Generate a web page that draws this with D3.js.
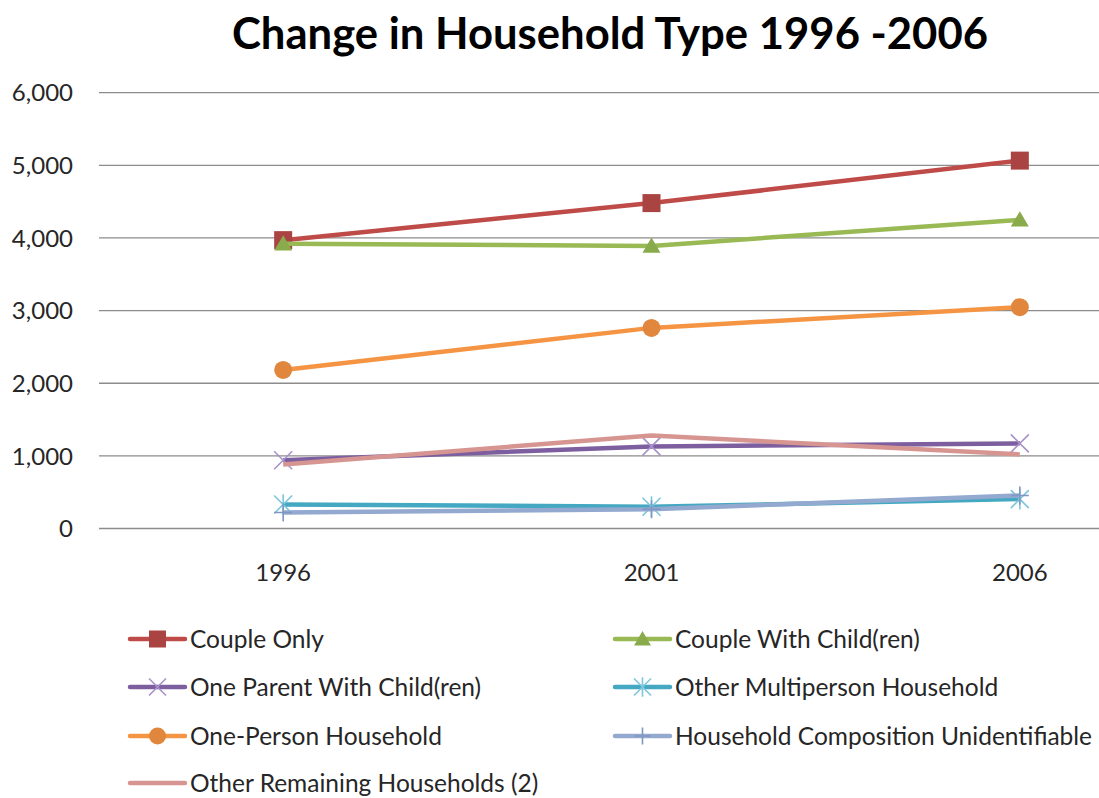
<!DOCTYPE html>
<html>
<head>
<meta charset="utf-8">
<script src="https://cdn.jsdelivr.net/npm/d3@7"></script>
<style>
  html, body { margin: 0; padding: 0; background: #ffffff; }
  svg { display: block; }
  text { font-family: Lato, "Open Sans", "DejaVu Sans", sans-serif; }
</style>
</head>
<body>
<svg id="chart" width="1099" height="798"></svg>
<script>
// Census years on the category axis
const years = ["1996", "2001", "2006"];

// Household counts per census year
const coupleOnly = [3970, 4480, 5065];
const coupleWithChildren = [3920, 3890, 4250];
const oneParent = [940, 1130, 1172];
const otherMultiperson = [330, 300, 405];
const onePerson = [2183, 2762, 3047];
const compositionUnidentifiable = [220, 265, 455];
const otherRemaining = [880, 1280, 1020];

// Value axis ticks
const yTicks = [0, 1000, 2000, 3000, 4000, 5000, 6000];

const seriesNames = [
  "Couple Only",
  "Couple With Child(ren)",
  "One Parent With Child(ren)",
  "Other Multiperson Household",
  "One-Person Household",
  "Household Composition Unidentifiable",
  "Other Remaining Households (2)"
];

const seriesValues = [
  coupleOnly, coupleWithChildren, oneParent, otherMultiperson,
  onePerson, compositionUnidentifiable, otherRemaining
];

const styles = [
  { line: "#BE4B48", marker: "#A94442", shape: "square" },
  { line: "#98B954", marker: "#8AAB4C", shape: "triangle" },
  { line: "#7D5FA0", marker: "#A792C9", shape: "x" },
  { line: "#45A8C2", marker: "#7CC7DB", shape: "star" },
  { line: "#F59443", marker: "#E0873D", shape: "circle" },
  { line: "#93A9CF", marker: "#7F97C2", shape: "plus" },
  { line: "#D79592", marker: "#D79592", shape: "none" }
];

const series = seriesNames.map((name, i) => ({
  name,
  values: seriesValues[i],
  style: styles[i]
}));

const svg = d3.select("#chart");
const W = 1099;

const plot = { left: 99, right: 1204, top: 92.7, bottom: 528.5 };

const x = d3.scaleBand().domain(years).range([plot.left, plot.right]).padding(0);
const cx = d => x(d) + x.bandwidth() / 2;
const y = d3.scaleLinear().domain([0, 6000]).range([plot.bottom, plot.top]);

// Title
svg.append("text")
  .attr("x", 610)
  .attr("y", 49)
  .attr("text-anchor", "middle")
  .attr("font-size", 43)
  .attr("font-weight", 700)
  .attr("fill", "#000")
  .attr("textLength", 756)
  .attr("lengthAdjust", "spacingAndGlyphs")
  .text("Change in Household Type 1996 -2006");

// Horizontal gridlines
svg.append("g")
  .selectAll("line")
  .data(yTicks)
  .join("line")
  .attr("x1", plot.left)
  .attr("x2", W)
  .attr("y1", d => y(d))
  .attr("y2", d => y(d))
  .attr("stroke", "#8c8c8c")
  .attr("stroke-width", 1.3);

// Value axis labels
const fmt = d3.format(",");
svg.append("g")
  .selectAll("text")
  .data(yTicks)
  .join("text")
  .attr("x", 73)
  .attr("y", d => y(d))
  .attr("dy", "0.36em")
  .attr("text-anchor", "end")
  .attr("font-size", 24)
  .attr("fill", "#262626")
  .text(d => fmt(d));

// Category axis labels
svg.append("g")
  .selectAll("text")
  .data(years)
  .join("text")
  .attr("x", d => cx(d))
  .attr("y", 572)
  .attr("dy", "0.36em")
  .attr("text-anchor", "middle")
  .attr("font-size", 24)
  .attr("fill", "#262626")
  .text(d => d);

// Marker drawing
function drawMarker(g, shape, color, s) {
  const h = s / 2;
  if (shape === "square") {
    g.append("rect").attr("x", -h).attr("y", -h).attr("width", s).attr("height", s).attr("fill", color);
  } else if (shape === "triangle") {
    g.append("path").attr("d", `M0,${-h * 0.95}L${h},${h * 0.75}L${-h},${h * 0.75}Z`).attr("fill", color);
  } else if (shape === "circle") {
    g.append("circle").attr("r", h).attr("fill", color);
  } else if (shape === "x") {
    g.append("path").attr("d", `M${-h},${-h}L${h},${h}M${h},${-h}L${-h},${h}`)
      .attr("stroke", color).attr("stroke-width", 1.6).attr("fill", "none");
  } else if (shape === "star") {
    g.append("path").attr("d", `M${-h},${-h}L${h},${h}M${h},${-h}L${-h},${h}M0,${-h * 1.15}L0,${h * 1.15}`)
      .attr("stroke", color).attr("stroke-width", 1.6).attr("fill", "none");
  } else if (shape === "plus") {
    g.append("path").attr("d", `M0,${-h}L0,${h}M${-h},0L${h},0`)
      .attr("stroke", color).attr("stroke-width", 1.6).attr("fill", "none");
  }
}

const line = d3.line()
  .x((d, i) => cx(years[i]))
  .y(d => y(d));

// Series lines with their markers
series.forEach(s => {
  const g = svg.append("g");
  g.append("path")
    .datum(s.values)
    .attr("d", line)
    .attr("fill", "none")
    .attr("stroke", s.style.line)
    .attr("stroke-width", 4.5)
    .attr("stroke-linejoin", "round");
  s.values.forEach((v, i) => {
    const m = g.append("g").attr("transform", `translate(${cx(years[i])},${y(v)})`);
    drawMarker(m, s.style.shape, s.style.marker, 18);
  });
});

// Legend: two columns, filled row by row
const legendCols = [130, 615];
const legendRows = [639, 687, 736, 783];
series.forEach((s, i) => {
  const col = i % 2;
  const row = Math.floor(i / 2);
  const lx = legendCols[col];
  const ly = legendRows[row];
  const g = svg.append("g").attr("transform", `translate(${lx},${ly})`);
  g.append("line")
    .attr("x1", 0).attr("x2", 55)
    .attr("y1", 0).attr("y2", 0)
    .attr("stroke", s.style.line)
    .attr("stroke-width", 4.5)
    .attr("stroke-linecap", "round");
  const m = g.append("g").attr("transform", "translate(27.5,0)");
  drawMarker(m, s.style.shape, s.style.marker, 17);
  g.append("text")
    .attr("x", 60)
    .attr("y", 0)
    .attr("dy", "0.36em")
    .attr("font-size", 24.5)
    .attr("fill", "#262626")
    .text(s.name);
});
</script>
</body>
</html>
